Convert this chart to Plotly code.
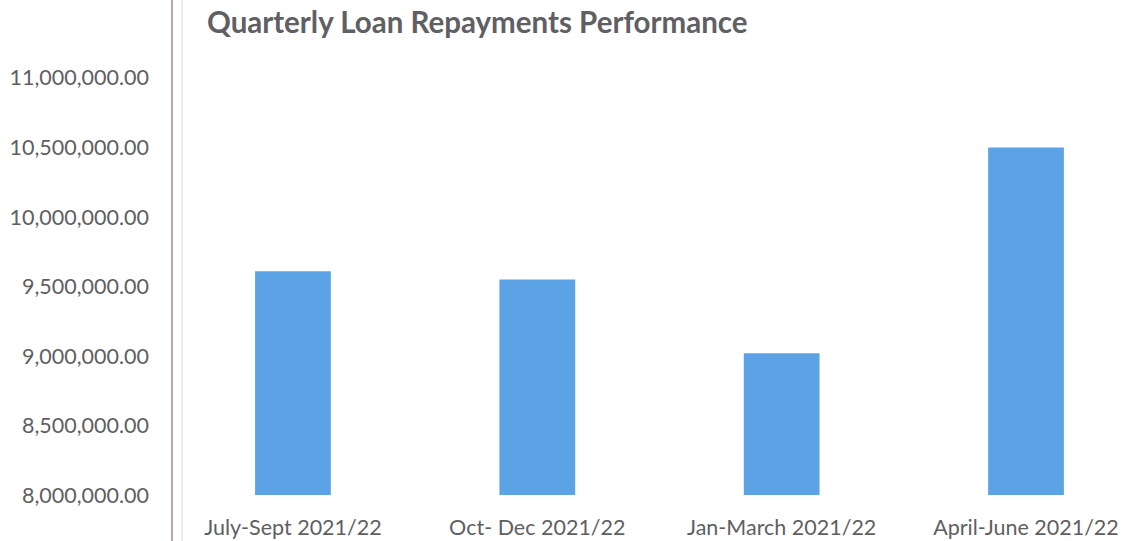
import plotly.graph_objects as go

categories = ["July-Sept 2021/22", "Oct- Dec 2021/22", "Jan-March 2021/22", "April-June 2021/22"]
repayments = [9610000, 9550000, 9020000, 10500000]
tick_values = [8000000, 8500000, 9000000, 9500000, 10000000, 10500000, 11000000]
tick_labels = ["8,000,000.00", "8,500,000.00", "9,000,000.00", "9,500,000.00",
               "10,000,000.00", "10,500,000.00", "11,000,000.00"]

FONT = "Lato"
GREY = "#5f5f63"

fig = go.Figure()
fig.add_trace(go.Bar(
    x=list(range(len(categories))),
    y=[v - 8000000 for v in repayments],
    base=8000000,
    width=0.31,
    marker=dict(color="#5ba3e4", line=dict(width=0)),
))

fig.update_layout(
    width=1124, height=541,
    margin=dict(l=172, r=0, t=40, b=46),
    paper_bgcolor="white", plot_bgcolor="white",
    showlegend=False,
    title=dict(text="<b>Quarterly Loan Repayments Performance</b>",
               x=207/1124, xanchor="left", xref="container",
               y=1-23/541, yanchor="middle", yref="container",
               font=dict(family=FONT, size=29.5, color="#606064")),
    xaxis=dict(range=[-0.495, 3.401], tickmode="array",
               tickvals=list(range(len(categories))), ticktext=categories,
               showgrid=False, zeroline=False, showline=False, ticks="",
               ticklabelstandoff=17,
               tickfont=dict(family=FONT, size=21.5, color=GREY)),
    yaxis=dict(range=[8000000, 11273000], tickmode="array",
               tickvals=tick_values, ticktext=tick_labels,
               showgrid=False, zeroline=False, showline=False,
               ticks="", ticklabelstandoff=22,
               tickfont=dict(family=FONT, size=21.5, color=GREY)),
    shapes=[
        dict(type="line", xref="paper", yref="paper", x0=0, x1=0, y0=-0.2, y1=1.2,
             line=dict(color="#a08a88", width=1.5)),
        dict(type="line", xref="paper", yref="paper", x0=10/952, x1=10/952, y0=-0.2, y1=1.2,
             line=dict(color="#ead6dc", width=1)),
    ],
)

fig.write_html("out.html")
